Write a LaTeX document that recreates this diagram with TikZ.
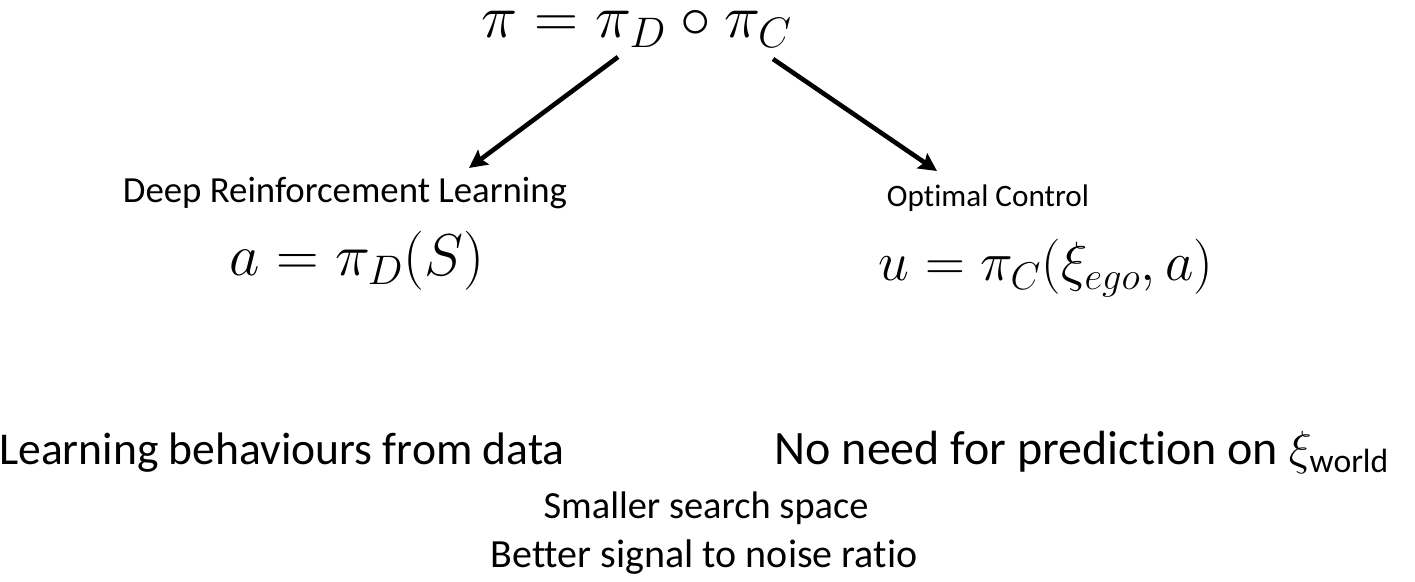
\RequirePackage{fix-cm}
\documentclass[tikz,border=0pt]{standalone}
\usepackage{amsmath,amssymb}
\usepackage{fontspec}
\setmainfont[Ligatures=NoCommon]{Carlito}
\usepackage{tikz}
\usetikzlibrary{arrows.meta,positioning}
\definecolor{pcink}{HTML}{000000}
\tikzset{
  lbl/.style={font=\fontsize{#1}{24}\selectfont,text=pcink,inner sep=0pt,anchor=base},
  lbl/.default=18.4,
  eqn/.style={font=\fontsize{#1}{36}\selectfont,text=pcink,inner sep=0pt,anchor=base},
  eqn/.default=29,
  splite/.style={-{Stealth[length=9pt,width=9pt,inset=1.5pt]},line width=2.3pt,draw=pcink},
}

\begin{document}
\begin{tikzpicture}[x=0.5pt,y=-0.5pt]
  \useasboundingbox (0,0) rectangle (1415,582);

  % ---- composed policy ----
  \node[eqn=30.5] (pi) at (637,38) {$\pi = \pi_D \circ \pi_C$};
  \coordinate (piD) at (618,57);
  \coordinate (piC) at (773,59);

  % ---- the two parts ----
  \node[lbl] (drl) at (345,203) {Deep Reinforcement Learning};
  \node[lbl=15.6] (oc) at (988,207) {Optimal Control};
  \coordinate (drltip) at (469,168);
  \coordinate (octip) at (937,171);
  \draw[splite] (piD) -- (drltip);
  \draw[splite] (piC) -- (octip);

  \node[eqn=29.5] (eqD) at (357,276) {$a = \pi_D(S)$};
  \node[eqn=27.6] (eqC) at (1046,281) {$u = \pi_C(\xi_{ego}, a)$};

  % ---- properties ----
  \node[lbl=22.8] (learn) at (282,465) {Learning behaviours from data};
  \node[lbl=24] (nopred) at (1082,465) {No need for prediction on $\xi_{\mathrm{world}}$};
  \node[lbl=19.2] (small) at (706,519) {Smaller search space};
  \node[lbl=20] (snr) at (704,568) {Better signal to noise ratio};
\end{tikzpicture}
\end{document}
